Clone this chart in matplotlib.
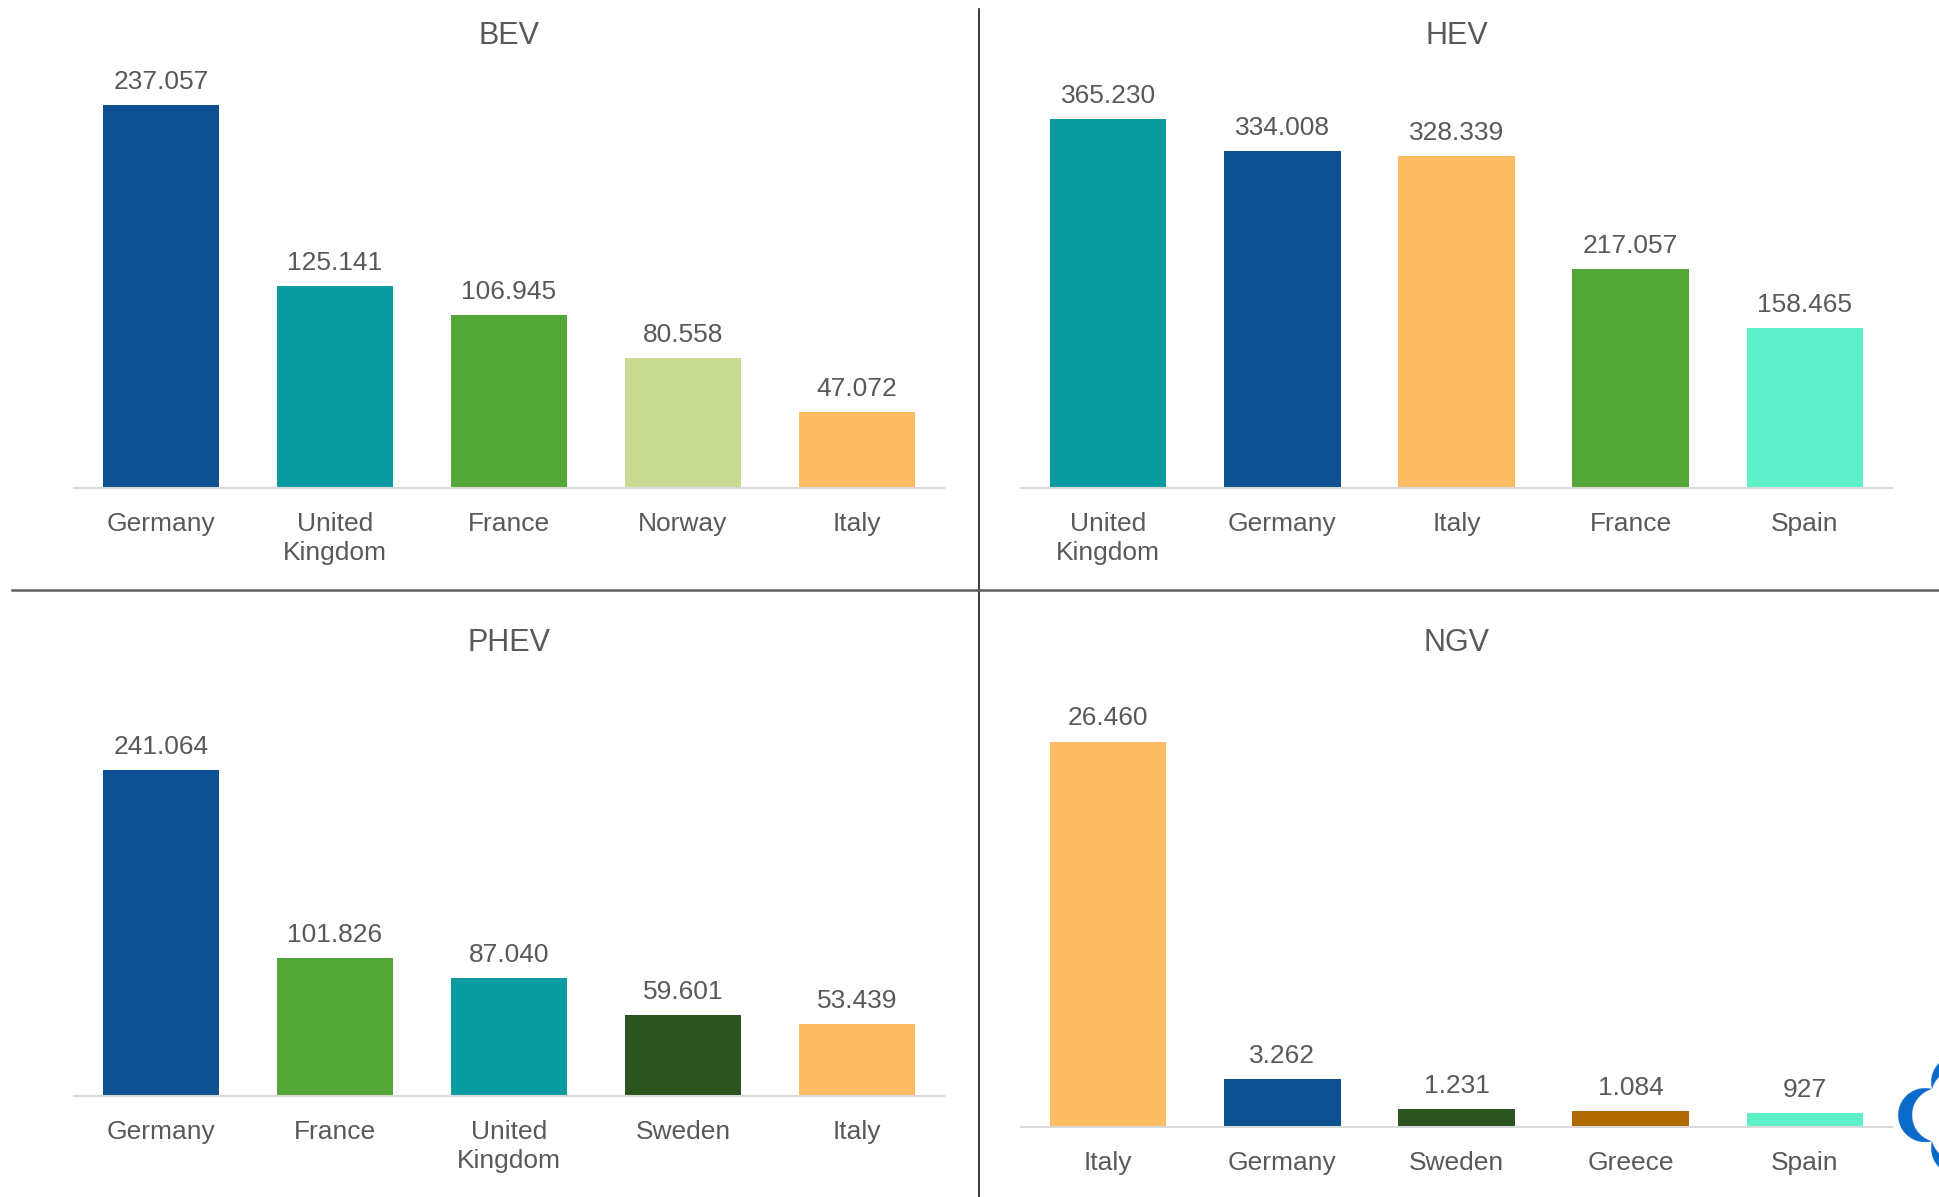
import matplotlib.pyplot as plt
import numpy as np

plt.rcParams['font.family'] = ['Liberation Sans', 'DejaVu Sans']

# data - new registrations per fuel type, top 5 countries
bev_countries = ['Germany', 'United\nKingdom', 'France', 'Norway', 'Italy']
bev_values = [237057, 125141, 106945, 80558, 47072]

hev_countries = ['United\nKingdom', 'Germany', 'Italy', 'France', 'Spain']
hev_values = [365230, 334008, 328339, 217057, 158465]

phev_countries = ['Germany', 'France', 'United\nKingdom', 'Sweden', 'Italy']
phev_values = [241064, 101826, 87040, 59601, 53439]

ngv_countries = ['Italy', 'Germany', 'Sweden', 'Greece', 'Spain']
ngv_values = [26460, 3262, 1231, 1084, 927]

country_colors = {
    'Germany': '#0E5192',
    'United\nKingdom': '#0A9BA0',
    'France': '#52A738',
    'Norway': '#C9DB93',
    'Italy': '#FEBD62',
    'Spain': '#5EF1C9',
    'Sweden': '#2C541F',
    'Greece': '#B06A02',
}

TXT = '#595959'
W, H = 1939, 1197

fig = plt.figure(figsize=(W / 100, H / 100), dpi=100)


def px_axes(x0, y0, x1, y1):
    # axes box given in pixel coords (y from top)
    return fig.add_axes([x0 / W, 1 - y1 / H, (x1 - x0) / W, (y1 - y0) / H])


def panel(box, title, title_y, countries, values, ymax):
    ax = px_axes(*box)
    x = np.arange(len(countries))
    bars = ax.bar(x, values, width=0.67, color=[country_colors[c] for c in countries])
    ax.set_xlim(-0.5, len(countries) - 0.5)
    ax.set_ylim(0, ymax)
    ax.set_xticks(x)
    ax.set_xticklabels(countries, fontsize=19, color=TXT, linespacing=1.3)
    ax.tick_params(axis='x', length=0, pad=17)
    ax.set_yticks([])
    for s in ['top', 'left', 'right']:
        ax.spines[s].set_visible(False)
    ax.spines['bottom'].set_color('#D9D9D9')
    ax.spines['bottom'].set_linewidth(1.5)
    for b, v in zip(bars, values):
        ax.annotate(f'{v:,}'.replace(',', '.'),
                    (b.get_x() + b.get_width() / 2, b.get_height()),
                    xytext=(0, 8), textcoords='offset points',
                    ha='center', va='bottom', fontsize=19, color=TXT)
    cx = (box[0] + box[2]) / 2
    fig.text(cx / W, 1 - title_y / H, title, ha='center', va='center',
             fontsize=22, color=TXT)
    return ax


panel((74, 84, 944, 488), 'BEV', 36, bev_countries, bev_values, 250000)
panel((1021, 84, 1892, 488), 'HEV', 36, hev_countries, hev_values, 400000)
panel((74, 690, 944, 1096), 'PHEV', 643, phev_countries, phev_values, 300000)
panel((1021, 690, 1892, 1127), 'NGV', 643, ngv_countries, ngv_values, 30000)

# divider lines
fig.add_artist(plt.Line2D([979 / W, 979 / W], [1 - 9 / H, 0], color='#1a1a1a', lw=1.2))
fig.add_artist(plt.Line2D([12 / W, 1], [1 - 590 / H, 1 - 590 / H], color='#5f5f5f', lw=1.8))

# partial logo in the bottom right corner (crescents)
lx0, ly0, lx1, ly1 = 1880, 1040, 1939, 1197
lax = px_axes(lx0, ly0, lx1, ly1)
ss = 4
gx, gy = np.meshgrid(np.arange(lx0, lx1, 1 / ss), np.arange(ly0, ly1, 1 / ss))
center = np.array([1958.0, 1115.0])
mask = np.zeros_like(gx, dtype=bool)
for d in [(-1, 0), (0, -1), (0, 1), (1, 0)]:
    d = np.array(d, dtype=float)
    oc = center + d * 33
    ic = center + d * 19
    inside_o = (gx - oc[0]) ** 2 + (gy - oc[1]) ** 2 <= 27 ** 2
    inside_i = (gx - ic[0]) ** 2 + (gy - ic[1]) ** 2 <= 27 ** 2
    mask |= inside_o & ~inside_i
rgba = np.zeros(mask.shape + (4,))
rgba[..., 0] = 0x0B / 255
rgba[..., 1] = 0x6A / 255
rgba[..., 2] = 0xCB / 255
rgba[..., 3] = mask.astype(float)
lax.imshow(rgba, extent=(lx0, lx1, ly1, ly0), interpolation='antialiased', aspect='auto')
lax.axis('off')

fig.savefig('out.png', dpi=100, facecolor='white')
